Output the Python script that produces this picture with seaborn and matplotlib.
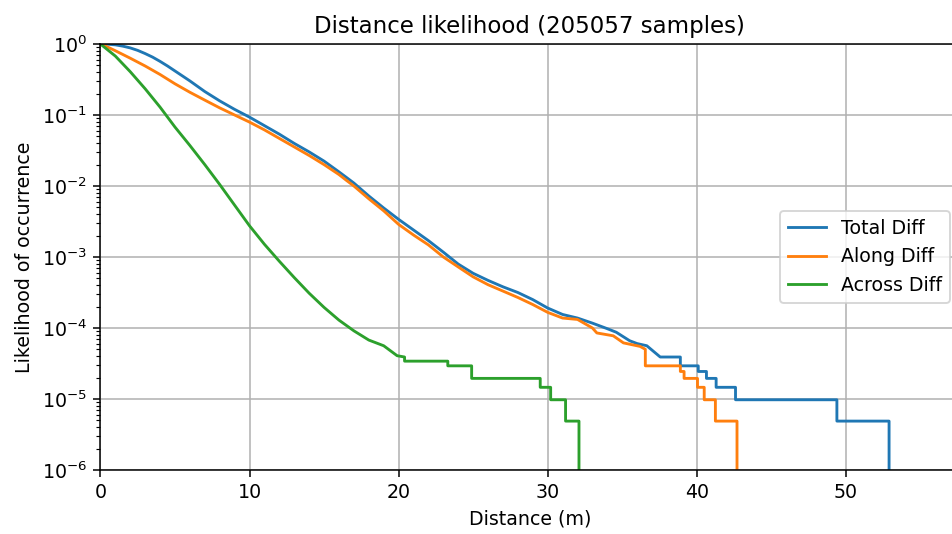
import numpy as np
import pandas as pd
import matplotlib
matplotlib.use("Agg")
import matplotlib.pyplot as plt
import seaborn as sns

n_samples = 205057

# Total Diff (survival curve)
total_x = [0, 0.5, 1, 1.5, 2, 2.5, 3, 3.5, 4, 4.5, 5, 5.5, 6, 7, 8, 9, 10, 11, 12, 13,
           14, 15, 16, 16.5, 17, 18, 19, 20, 21, 22, 23, 24, 25, 26, 27, 28, 29, 30,
           31, 32, 33, 34, 34.6, 35.5, 36.0, 36.65, 37.1, 37.55, 38.9, 38.9, 40.1,
           40.1, 40.65, 40.65, 41.3, 41.3, 42.6, 42.6, 49.4, 49.4, 52.9, 52.9]
total_y = [1.0, 0.993, 0.973, 0.933, 0.881, 0.813, 0.733, 0.653, 0.569, 0.490, 0.417,
           0.355, 0.302, 0.214, 0.158, 0.120, 0.0933, 0.0708, 0.0537, 0.0398, 0.0302,
           0.0224, 0.0158, 0.0132, 0.0110, 0.00724, 0.00490, 0.00339, 0.00240,
           0.00170, 0.00117, 7.94e-4, 5.89e-4, 4.68e-4, 3.80e-4, 3.16e-4, 2.51e-4,
           1.91e-4, 1.55e-4, 1.38e-4, 1.17e-4, 9.77e-5, 8.71e-5, 6.61e-5, 6.03e-5,
           5.62e-5, 4.68e-5, 3.90e-5, 3.90e-5, 2.93e-5, 2.93e-5, 2.44e-5, 2.44e-5,
           1.95e-5, 1.95e-5, 1.46e-5, 1.46e-5, 9.75e-6, 9.75e-6, 4.88e-6, 4.88e-6, 0.0]

# Along Diff
along_x = [0, 0.5, 1, 2, 3, 4, 5, 6, 7, 8, 9, 10, 11, 12, 13, 14, 15, 16, 16.5, 17,
           18, 19, 20, 21, 22, 23, 24, 25, 26, 27, 28, 29, 30, 31, 32, 33, 33.3, 34.4,
           35.08, 36.2, 36.55, 36.55, 38.9, 38.9, 39.15, 39.15, 40.05, 40.05, 40.5,
           40.5, 41.25, 41.25, 42.7, 42.7]
along_y = [1.0, 0.902, 0.804, 0.631, 0.490, 0.372, 0.275, 0.209, 0.162, 0.126, 0.100,
           0.0794, 0.0617, 0.0468, 0.0355, 0.0269, 0.0200, 0.0145, 0.0120, 0.0100,
           0.00661, 0.00447, 0.00288, 0.00204, 0.00148, 0.00100, 7.24e-4, 5.25e-4,
           4.07e-4, 3.31e-4, 2.69e-4, 2.14e-4, 1.66e-4, 1.38e-4, 1.32e-4, 1.00e-4,
           8.51e-5, 7.76e-5, 6.17e-5, 5.50e-5, 5.01e-5, 2.93e-5, 2.93e-5, 2.44e-5,
           2.44e-5, 1.95e-5, 1.95e-5, 1.46e-5, 1.46e-5, 9.75e-6, 9.75e-6, 4.88e-6,
           4.88e-6, 0.0]

# Across Diff
across_x = [0, 1, 2, 3, 4, 5, 6, 7, 8, 9, 10, 11, 12, 13, 14, 15, 16, 17, 18, 19,
            19.9, 20.4, 20.4, 23.3, 23.3, 24.9, 24.9, 29.5, 29.5, 30.2, 30.2, 31.2,
            31.2, 32.1, 32.1]
across_y = [1.0, 0.676, 0.407, 0.234, 0.129, 0.0676, 0.0372, 0.0200, 0.0105, 0.00537,
            0.00275, 0.00151, 8.71e-4, 5.13e-4, 3.09e-4, 1.95e-4, 1.29e-4, 9.12e-5,
            6.76e-5, 5.62e-5, 4.07e-5, 3.90e-5, 3.41e-5, 3.41e-5, 2.93e-5, 2.93e-5,
            1.95e-5, 1.95e-5, 1.46e-5, 1.46e-5, 9.75e-6, 9.75e-6, 4.88e-6, 4.88e-6, 0.0]

series = ["Total Diff", "Along Diff", "Across Diff"]

df = pd.concat([
    pd.DataFrame({"Distance": total_x, "Likelihood": total_y, "Kind": series[0]}),
    pd.DataFrame({"Distance": along_x, "Likelihood": along_y, "Kind": series[1]}),
    pd.DataFrame({"Distance": across_x, "Likelihood": across_y, "Kind": series[2]}),
], ignore_index=True)

dpi = 137
fig = plt.figure(figsize=(952 / dpi, 534 / dpi), dpi=dpi)
ax = fig.add_axes([0.1055, 0.1199, 0.902, 0.7977])
sns.lineplot(data=df, x="Distance", y="Likelihood", hue="Kind", hue_order=series,
             estimator=None, sort=False, linewidth=1.5, ax=ax)
ax.set_yscale("log")
ax.set_ylim(1e-6, 1)
ax.set_xlim(0, 57.6)
ax.grid(True)
ax.set_xlabel("Distance (m)")
ax.set_ylabel("Likelihood of occurrence")
ax.set_title("Distance likelihood (%d samples)" % n_samples)
sns.move_legend(ax, "center right", title=None)

fig.savefig("out.png", dpi=dpi)
